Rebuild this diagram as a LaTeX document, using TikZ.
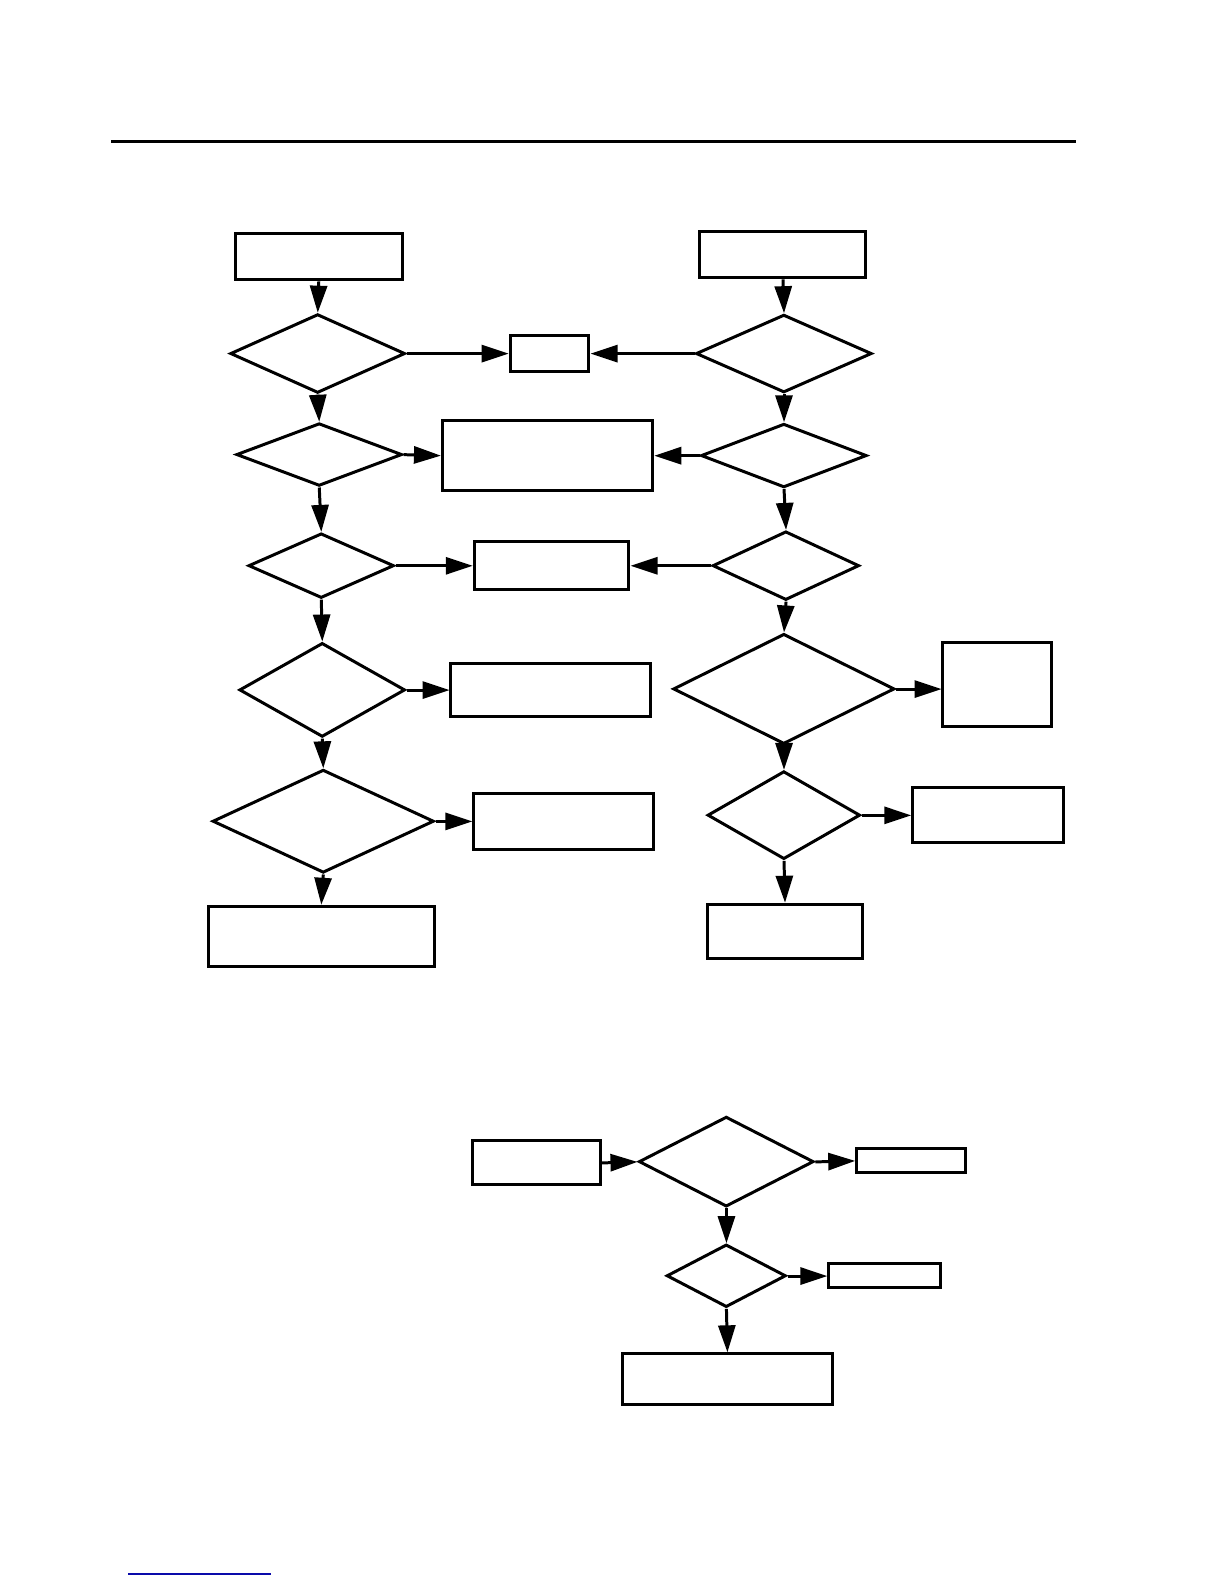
\documentclass[tikz,border=0pt]{standalone}
\usetikzlibrary{shapes.geometric,arrows.meta}
\definecolor{linkblue}{RGB}{10,10,170}

\begin{document}
\begin{tikzpicture}[x=0.01cm,y=-0.01cm,
  box/.style={draw,line width=0.85pt,inner sep=0pt},
  dia/.style={draw,diamond,line width=0.85pt,inner sep=0pt},
  flow/.style={line width=0.85pt,-{Triangle[length=2.7mm,width=1.7mm]}}]
\useasboundingbox (0,0) rectangle (1224,1584);

\begin{scope}[transform shape,scale=1.0101]
\draw[line width=0.85pt] (110,140) -- (1065,140);

% left column
\node[box,minimum width=1.65cm,minimum height=0.46cm] (l1) at (315.5,254) {};
\node[dia,minimum width=1.73cm,minimum height=0.78cm] (d1l) at (314.5,350) {};
\node[dia,minimum width=1.64cm,minimum height=0.62cm] (d2l) at (316,450) {};
\node[dia,minimum width=1.44cm,minimum height=0.64cm] (d3l) at (318,560) {};
\node[dia,minimum width=1.64cm,minimum height=0.93cm] (d4l) at (319,683) {};
\node[dia,minimum width=2.19cm,minimum height=1.02cm] (d5l) at (320,813) {};
\node[box,minimum width=2.24cm,minimum height=0.60cm] (b6l) at (318,927) {};

% middle boxes
\node[box,minimum width=0.78cm,minimum height=0.35cm] (s1) at (544,350) {};
\node[box,minimum width=2.08cm,minimum height=0.70cm] (b2) at (542,451) {};
\node[box,minimum width=1.53cm,minimum height=0.48cm] (b3) at (546,560) {};
\node[box,minimum width=1.97cm,minimum height=0.52cm] (b4l) at (545,683) {};
\node[box,minimum width=1.78cm,minimum height=0.55cm] (b5l) at (558,813) {};

% right column
\node[box,minimum width=1.64cm,minimum height=0.46cm] (r1) at (775,252) {};
\node[dia,minimum width=1.74cm,minimum height=0.77cm] (d1r) at (776,350) {};
\node[dia,minimum width=1.64cm,minimum height=0.63cm] (d2r) at (776,451) {};
\node[dia,minimum width=1.45cm,minimum height=0.68cm] (d3r) at (778,560) {};
\node[dia,minimum width=2.19cm,minimum height=1.09cm] (d4r) at (776,682) {};
\node[dia,minimum width=1.51cm,minimum height=0.87cm] (d5r) at (776,807) {};
\node[box,minimum width=1.54cm,minimum height=0.54cm] (b6r) at (777,922) {};
\node[box,minimum width=1.07cm,minimum height=0.83cm] (b4r) at (987,678) {};
\node[box,minimum width=1.49cm,minimum height=0.54cm] (b5r) at (978,807) {};

% lower chart
\node[box,minimum width=1.27cm,minimum height=0.43cm] (ba) at (531,1151) {};
\node[dia,minimum width=1.73cm,minimum height=0.89cm] (da) at (719,1150) {};
\node[box,minimum width=1.08cm,minimum height=0.24cm] (bb) at (902,1149) {};
\node[dia,minimum width=1.18cm,minimum height=0.62cm] (db) at (719,1263) {};
\node[box,minimum width=1.11cm,minimum height=0.24cm] (bc) at (876,1263) {};
\node[box,minimum width=2.08cm,minimum height=0.50cm] (bd) at (720,1365) {};

% downward arrows
\foreach \a/\b in {l1/d1l, d1l/d2l, d2l/d3l, d3l/d4l, d4l/d5l, d5l/b6l,
                   r1/d1r, d1r/d2r, d2r/d3r, d3r/d4r, d4r/d5r, d5r/b6r,
                   da/db, db/bd}
  \draw[flow] (\a.south) -- (\b.north);

% sideways arrows
\foreach \a/\b in {d1l/s1, d2l/b2, d3l/b3, d4l/b4l, d5l/b5l,
                   d5r/b5r, ba/da, da/bb, db/bc}
  \draw[flow] (\a.east) -- (\b.west);
\foreach \a/\b in {d1r/s1, d2r/b2, d3r/b3}
  \draw[flow] (\a.west) -- (\b.east);
\draw[flow] (d4r.east) -- (d4r.east -| b4r.west);

\draw[linkblue,line width=0.45pt] (127,1558) -- (268,1558);
\end{scope}
\end{tikzpicture}
\end{document}
